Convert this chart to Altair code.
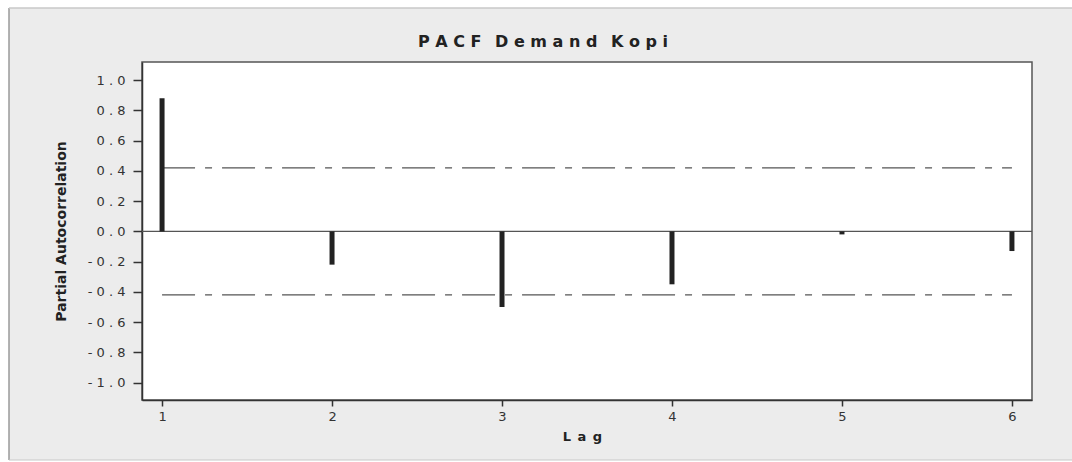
import altair as alt
import pandas as pd

# ---- data ----
lags = [1, 2, 3, 4, 5, 6]
pacf = [0.88, -0.22, -0.50, -0.35, -0.02, -0.13]
conf_upper = 0.42
conf_lower = -0.42
y_ticks = [1.0, 0.8, 0.6, 0.4, 0.2, 0.0, -0.2, -0.4, -0.6, -0.8, -1.0]
x_ticks = [1, 2, 3, 4, 5, 6]

title_text = "P A C F \u2002D e m a n d \u2002K o p i"
x_title = "L\u2002a\u2002g"
y_title = "Partial Autocorrelation"

W, H = 890, 338
PAD_L, PAD_T, PAD_R, PAD_B = 142, 62, 40, 62

bars = pd.DataFrame({"lag": lags, "pacf": pacf, "base": [0.0] * len(lags)})
limits = pd.DataFrame({"x": [lags[0], lags[0]], "x2": [lags[-1], lags[-1]],
                       "y": [conf_upper, conf_lower]})
zero = pd.DataFrame({"x": [0.882], "x2": [6.118], "y": [0.0]})
one = pd.DataFrame({"t": [title_text]})

xscale = alt.Scale(domain=[0.882, 6.118], nice=False, zero=False)
yscale = alt.Scale(domain=[-1.115, 1.12], nice=False, zero=False)

y_label_expr = "join(split(replace(format(datum.value, '.1f'), '\u2212', '-'), ''), ' ')"

common = dict(grid=False, tickColor="#333", tickWidth=1.5, domainColor="#333", domainWidth=1.5,
              labelFont="DejaVu Sans", labelFontSize=13, labelColor="#333", labelOverlap=False,
              titleFont="DejaVu Sans", titleFontWeight="bold", titleColor="#222")
xaxis = alt.Axis(values=x_ticks, title=x_title, format="d", tickSize=6, labelPadding=4,
                 titlePadding=7, titleFontSize=13, titleX=440, **common)
yaxis = alt.Axis(values=y_ticks, title=y_title, labelExpr=y_label_expr, tickSize=9,
                 labelPadding=8, titlePadding=19, titleFontSize=14, **common)

# white page margins around the grey panel (decoration only)
left_strip = alt.Chart(one).mark_rect(fill="white").encode(
    x=alt.value(-PAD_L), x2=alt.value(9 - PAD_L), y=alt.value(-PAD_T), y2=alt.value(H + PAD_B),
)
top_strip = alt.Chart(one).mark_rect(fill="white").encode(
    x=alt.value(-PAD_L), x2=alt.value(W + PAD_R), y=alt.value(-PAD_T), y2=alt.value(8 - PAD_T),
)
bottom_strip = alt.Chart(one).mark_rect(fill="white").encode(
    x=alt.value(-PAD_L), x2=alt.value(W + PAD_R), y=alt.value(H + 60), y2=alt.value(H + PAD_B),
)
left_edge = alt.Chart(one).mark_rule(color="#9A9A9A", strokeWidth=1.5).encode(
    x=alt.value(9 - PAD_L), y=alt.value(8 - PAD_T), y2=alt.value(H + 60),
)
top_edge = alt.Chart(one).mark_rule(color="#C8C8C8", strokeWidth=1.5).encode(
    x=alt.value(9 - PAD_L), x2=alt.value(W + PAD_R), y=alt.value(8 - PAD_T),
)
bottom_edge = alt.Chart(one).mark_rule(color="#C8C8C8", strokeWidth=1).encode(
    x=alt.value(9 - PAD_L), x2=alt.value(W + PAD_R), y=alt.value(H + 60),
)

title_mark = alt.Chart(one).mark_text(font="DejaVu Sans", fontSize=16, fontWeight="bold",
                                      color="#222", align="center", baseline="alphabetic").encode(
    x=alt.value(543 - PAD_L), y=alt.value(47 - PAD_T), text="t:N",
)

zero_line = alt.Chart(zero).mark_rule(color="#555555", strokeWidth=1.2).encode(
    x=alt.X("x:Q", scale=xscale, axis=xaxis), x2="x2:Q",
    y=alt.Y("y:Q", scale=yscale, axis=yaxis),
)

limit_lines = alt.Chart(limits).mark_rule(color="#555555", strokeWidth=1.2,
                                          strokeDash=[33, 10, 7, 10]).encode(
    x=alt.X("x:Q", scale=xscale, axis=xaxis), x2="x2:Q",
    y=alt.Y("y:Q", scale=yscale, axis=yaxis),
)

bar_rules = alt.Chart(bars).mark_rule(color="#222222", strokeWidth=5).encode(
    x=alt.X("lag:Q", scale=xscale, axis=xaxis),
    y=alt.Y("base:Q", scale=yscale, axis=yaxis), y2="pacf:Q",
)

chart = alt.layer(left_strip, top_strip, bottom_strip, left_edge, top_edge, bottom_edge,
                  zero_line, limit_lines, bar_rules, title_mark).properties(
    width=W, height=H,
    autosize=alt.AutoSizeParams(type="none"),
    padding={"left": PAD_L, "top": PAD_T, "right": PAD_R, "bottom": PAD_B},
    background="#ECECEC",
).configure_view(
    fill="white", stroke="#555555", strokeWidth=1.5
)

chart.save("out.html", embed_options={"renderer": "svg", "actions": False})
